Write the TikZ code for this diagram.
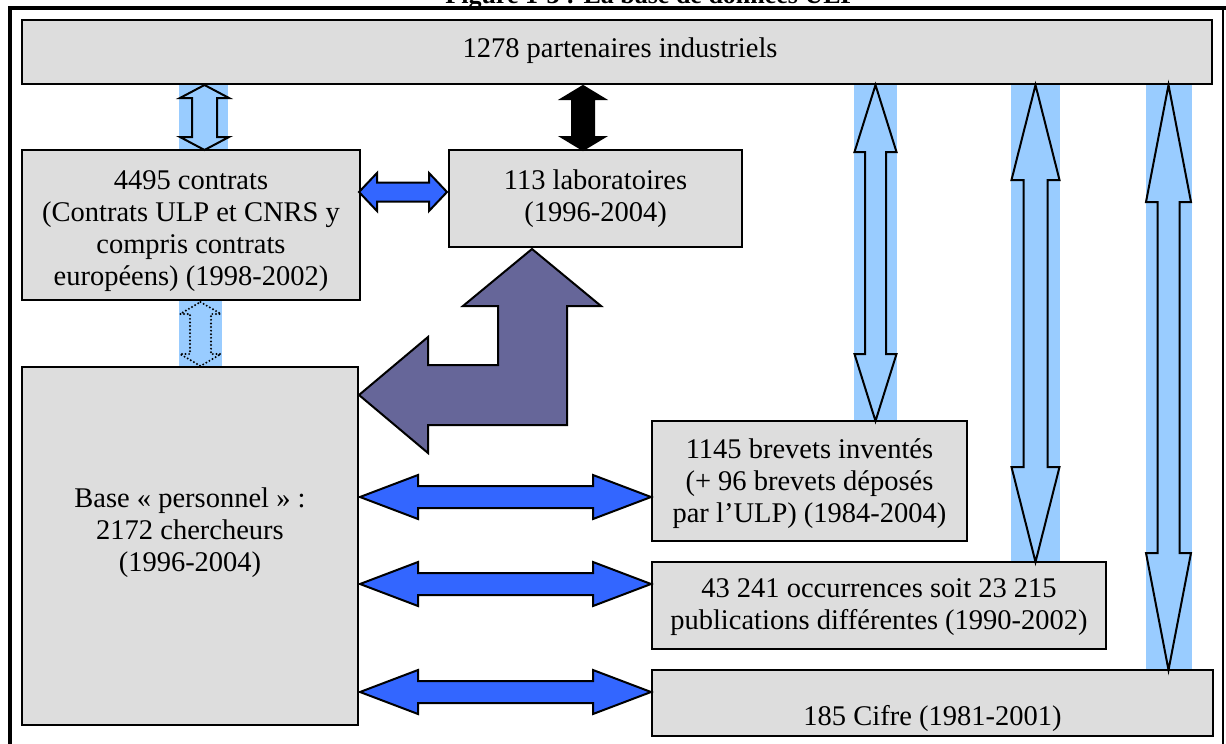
\documentclass[tikz,border=0pt]{standalone}
\usepackage{fontspec}
\setmainfont{Liberation Serif}
\definecolor{boxgray}{HTML}{DDDDDD}
\definecolor{lightblue}{HTML}{99CCFF}
\definecolor{arrowblue}{HTML}{3366FF}
\definecolor{lilac}{HTML}{666699}
% vertical double block arrow: style, cx, ytop, ybot, halfhead, halfshaft, headlen
\newcommand\VDArrow[7]{%
  \draw[#1] (#2,#3) -- ({#2+#5},{#3+#7}) -- ({#2+#6},{#3+#7}) -- ({#2+#6},{#4-#7})
    -- ({#2+#5},{#4-#7}) -- (#2,#4) -- ({#2-#5},{#4-#7}) -- ({#2-#6},{#4-#7})
    -- ({#2-#6},{#3+#7}) -- ({#2-#5},{#3+#7}) -- cycle;}
% horizontal double block arrow: style, cy, xleft, xright, halfhead, halfshaft, headlen
\newcommand\HDArrow[7]{%
  \draw[#1] (#3,#2) -- ({#3+#7},{#2-#5}) -- ({#3+#7},{#2-#6}) -- ({#4-#7},{#2-#6})
    -- ({#4-#7},{#2-#5}) -- (#4,#2) -- ({#4-#7},{#2+#5}) -- ({#4-#7},{#2+#6})
    -- ({#3+#7},{#2+#6}) -- ({#3+#7},{#2+#5}) -- cycle;}
\begin{document}
\begin{tikzpicture}[x=1pt,y=-1pt,
  box/.style={draw=black, line width=2pt, fill=boxgray, inner sep=0pt, outer sep=0pt},
  txt/.style={font=\fontsize{28.5}{32}\selectfont, anchor=base, inner sep=0pt},
  lbarrow/.style={draw=black, line width=2pt, fill=lightblue, line join=miter},
  lbrect/.style={fill=lightblue},
  bluearrow/.style={draw=black, line width=2pt, fill=arrowblue, line join=miter},
  blackarrow/.style={draw=black, line width=2pt, fill=black, line join=miter},
  dotarrow/.style={draw=black, line width=2.2pt, fill=lightblue, dash pattern=on 0pt off 3.6pt, line cap=round},
  bentarrow/.style={draw=black, line width=2pt, fill=lilac, line join=miter}]
\useasboundingbox (0,0) rectangle (1226,744);
\fill[white] (0,0) rectangle (1226,744);
% title (cut off at the top)
\begin{scope}
\clip (0,0) rectangle (1226,744);
\node[font=\bfseries\fontsize{26}{30}\selectfont, anchor=base, inner sep=0pt] (title) at (651,3) {Figure 1-3 : La base de données ULP};
\end{scope}
% frame
\draw[line width=4pt] (8,8) -- (1226,8);
\draw[line width=4pt] (9.5,6) -- (9.5,744);
\draw[line width=1.5pt] (1223,8) -- (1223,744);
% light blue backgrounds of block arrows
\fill[lbrect] (179,84) rectangle (228,150);
\fill[lbrect] (179,300) rectangle (222,367);
\fill[lbrect] (854,84) rectangle (897,421);
\fill[lbrect] (1011,84) rectangle (1060,562);
\fill[lbrect] (1146,84) rectangle (1192,670);
% boxes
\node[box, minimum width=1190pt, minimum height=64pt] (part) at (617,52) {};
\node[box, minimum width=338pt, minimum height=150pt] (contr) at (191,225) {};
\node[box, minimum width=293pt, minimum height=97pt] (labo) at (595.5,198.5) {};
\node[box, minimum width=336pt, minimum height=358pt] (pers) at (190,546) {};
\node[box, minimum width=315pt, minimum height=120pt] (brev) at (809.5,481) {};
\node[box, minimum width=454pt, minimum height=87pt] (occ) at (879,605.5) {};
\node[box, minimum width=561pt, minimum height=66pt] (cifre) at (932.5,703) {};
% texts
\node[txt] (tpart) at (620,57.5) {1278 partenaires industriels};
\node[txt] (tcontr) at (191,189.5) {\begin{tabular}[t]{@{}c@{}}4495 contrats\\(Contrats ULP et CNRS y\\compris contrats\\européens) (1998-2002)\end{tabular}};
\node[txt] (tlabo) at (595.5,189.5) {\begin{tabular}[t]{@{}c@{}}113 laboratoires\\(1996-2004)\end{tabular}};
\node[txt] (tpers) at (190,507) {\begin{tabular}[t]{@{}c@{}}Base « personnel » :\\2172 chercheurs\\(1996-2004)\end{tabular}};
\node[txt] (tbrev) at (809.5,458) {\begin{tabular}[t]{@{}c@{}}1145 brevets inventés\\(+ 96 brevets déposés\\par l’ULP) (1984-2004)\end{tabular}};
\node[txt] (tocc) at (879,597) {\begin{tabular}[t]{@{}c@{}}43 241 occurrences soit 23 215\\publications différentes (1990-2002)\end{tabular}};
\node[txt] (tcifre) at (932.5,725) {185 Cifre (1981-2001)};
% vertical block arrows
\VDArrow{lbarrow}{204.5}{85}{150}{24.5}{12.5}{13}
\VDArrow{dotarrow}{200.5}{302}{366}{20.5}{10.5}{12}
\VDArrow{blackarrow}{583}{86}{150}{21.5}{11}{13}
\VDArrow{lbarrow}{875.5}{85}{421}{21}{10.5}{67}
\VDArrow{lbarrow}{1035.5}{85}{562}{24}{12}{95}
\VDArrow{lbarrow}{1168.5}{85}{670}{22.5}{11}{117}
% horizontal block arrows
\HDArrow{bluearrow}{192}{359}{447}{19}{9.5}{18}
\HDArrow{bluearrow}{497}{360}{651}{22}{11}{58}
\HDArrow{bluearrow}{584}{360}{651}{22}{11}{58}
\HDArrow{bluearrow}{692}{360}{651}{22}{11}{58}
% bent arrow from personnel to laboratoires
\draw[bentarrow] (532,249) -- (601,306) -- (567,306) -- (567,425) -- (428,425) -- (428,453)
  -- (359,395) -- (428,337) -- (428,365) -- (498,365) -- (498,306) -- (463,306) -- cycle;
\end{tikzpicture}
\end{document}
